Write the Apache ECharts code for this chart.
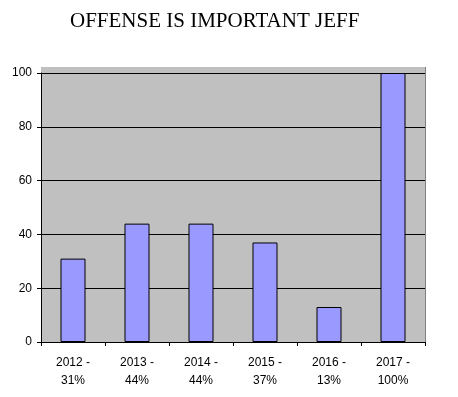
<!DOCTYPE html>
<html>
<head>
<meta charset="utf-8">
<script src="https://cdn.jsdelivr.net/npm/echarts@6/dist/echarts.min.js"></script>
<style>
  html, body { margin: 0; padding: 0; background: #fff; }
  #chart { width: 458px; height: 397px; }
</style>
</head>
<body>
<div id="chart"></div>
<script>
// data
const years = ['2012', '2013', '2014', '2015', '2016', '2017'];
const pct = ['31%', '44%', '44%', '37%', '13%', '100%'];
const values = [31, 44, 44, 37, 13, 100];

const categories = years.map((y, i) => y + ' -\n' + pct[i]);

const chart = echarts.init(document.getElementById('chart'));
chart.setOption({
    animation: false,
    title: {
        text: 'OFFENSE IS IMPORTANT JEFF',
        left: 65,
        top: 6,
        textStyle: {
            fontFamily: 'Liberation Serif',
            fontWeight: 'normal',
            fontSize: 21,
            color: '#000'
        }
    },
    // gray plot area (a bit taller than the 100 line)
    graphic: [
        {
            type: 'rect',
            z: -10,
            shape: { x: 41, y: 67, width: 384, height: 275 },
            style: { fill: '#C0C0C0' }
        },
        {
            type: 'line',
            z: -9,
            shape: { x1: 425.5, y1: 67, x2: 425.5, y2: 342 },
            style: { stroke: '#808080', lineWidth: 1 }
        }
    ],
    grid: {
        left: 41,
        right: 33,
        top: 73,
        bottom: 55
    },
    xAxis: {
        type: 'category',
        data: categories,
        axisLine: { lineStyle: { color: '#000', width: 1 } },
        axisTick: { show: true, length: 4, lineStyle: { color: '#000' } },
        axisLabel: {
            color: '#000',
            fontFamily: 'Liberation Sans',
            fontSize: 12,
            lineHeight: 18,
            margin: 12
        }
    },
    yAxis: {
        type: 'value',
        min: 0,
        max: 100,
        interval: 20,
        axisLine: { show: true, lineStyle: { color: '#000', width: 1 } },
        axisTick: { show: true, length: 4, lineStyle: { color: '#000' } },
        splitLine: { lineStyle: { color: '#000', width: 1 } },
        axisLabel: {
            color: '#000',
            fontFamily: 'Liberation Sans',
            fontSize: 12,
            margin: 9
        }
    },
    series: [
        {
            type: 'bar',
            data: values,
            barWidth: 25,
            itemStyle: {
                color: '#9999FF',
                borderColor: '#000',
                borderWidth: 1
            }
        }
    ]
});
</script>
</body>
</html>
